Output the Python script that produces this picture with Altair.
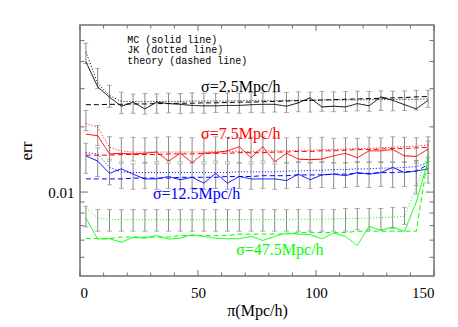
import altair as alt
import pandas as pd

# ---------------- data ----------------
xs = [2.5, 7.5, 12.5, 17.5, 22.5, 27.5, 32.5, 37.5, 42.5, 47.5,
      52.5, 57.5, 62.5, 67.5, 72.5, 77.5, 82.5, 87.5, 92.5, 97.5,
      102.5, 107.5, 112.5, 117.5, 122.5, 127.5, 132.5, 137.5, 142.5, 147.5]

black_mc = [0.0399, 0.0306, 0.0274, 0.0249, 0.0260, 0.0242, 0.0260, 0.0256, 0.0254, 0.0251,
            0.0250, 0.0250, 0.0251, 0.0251, 0.0253, 0.0254, 0.0254, 0.0249, 0.0258, 0.0272,
            0.0247, 0.0249, 0.0247, 0.0256, 0.0250, 0.0275, 0.0265, 0.0253, 0.0242, 0.0265]
black_jk = [0.0444, 0.0317, 0.0279, 0.0262, 0.0262, 0.0261, 0.0262, 0.0262, 0.0262, 0.0263,
            0.0263, 0.0263, 0.0263, 0.0264, 0.0264, 0.0264, 0.0264, 0.0265, 0.0265, 0.0265,
            0.0266, 0.0266, 0.0266, 0.0266, 0.0267, 0.0267, 0.0267, 0.0268, 0.0268, 0.0269]
black_th = [0.0253, 0.0253, 0.0254, 0.0254, 0.0255, 0.0255, 0.0256, 0.0256, 0.0257, 0.0257,
            0.0258, 0.0258, 0.0259, 0.0260, 0.0260, 0.0261, 0.0262, 0.0263, 0.0264, 0.0265,
            0.0266, 0.0267, 0.0268, 0.0269, 0.0270, 0.0271, 0.0272, 0.0273, 0.0275, 0.0276]
black_lo = [0.0392, 0.0300, 0.0246, 0.0230, 0.0231, 0.0229, 0.0231, 0.0232, 0.0230, 0.0232,
            0.0231, 0.0233, 0.0232, 0.0231, 0.0233, 0.0232, 0.0234, 0.0233, 0.0235, 0.0234,
            0.0236, 0.0235, 0.0236, 0.0237, 0.0236, 0.0238, 0.0237, 0.0238, 0.0239, 0.0246]
black_hi = [0.0486, 0.0372, 0.0311, 0.0289, 0.0283, 0.0285, 0.0284, 0.0286, 0.0285, 0.0287,
            0.0286, 0.0285, 0.0287, 0.0286, 0.0288, 0.0287, 0.0289, 0.0288, 0.0290, 0.0289,
            0.0291, 0.0290, 0.0291, 0.0292, 0.0291, 0.0293, 0.0292, 0.0293, 0.0294, 0.0295]

red_mc = [0.0185, 0.0182, 0.0150, 0.0151, 0.0150, 0.0151, 0.0153, 0.0139, 0.0151, 0.0137,
          0.0151, 0.0152, 0.0155, 0.0162, 0.0144, 0.0162, 0.0138, 0.0151, 0.0142, 0.0141,
          0.0142, 0.0147, 0.0151, 0.0144, 0.0155, 0.0155, 0.0157, 0.0147, 0.0146, 0.0158]
red_jk = [0.0207, 0.0199, 0.0161, 0.0155, 0.0153, 0.0153, 0.0153, 0.0153, 0.0153, 0.0153,
          0.0153, 0.0154, 0.0154, 0.0154, 0.0154, 0.0155, 0.0155, 0.0155, 0.0156, 0.0156,
          0.0157, 0.0157, 0.0158, 0.0159, 0.0159, 0.0160, 0.0161, 0.0162, 0.0163, 0.0165]
red_th = [0.0148, 0.0148, 0.0148, 0.0149, 0.0149, 0.0149, 0.0149, 0.0150, 0.0150, 0.0150,
          0.0151, 0.0151, 0.0151, 0.0152, 0.0152, 0.0152, 0.0153, 0.0153, 0.0154, 0.0154,
          0.0155, 0.0155, 0.0156, 0.0157, 0.0157, 0.0158, 0.0159, 0.0159, 0.0160, 0.0161]
red_lo = [0.0192, 0.0164, 0.0139, 0.0138, 0.0139, 0.0137, 0.0138, 0.0139, 0.0138, 0.0137,
          0.0138, 0.0139, 0.0138, 0.0137, 0.0138, 0.0139, 0.0138, 0.0137, 0.0138, 0.0137,
          0.0138, 0.0137, 0.0136, 0.0137, 0.0138, 0.0137, 0.0138, 0.0137, 0.0136, 0.0138]
red_hi = [0.0238, 0.0203, 0.0180, 0.0178, 0.0179, 0.0178, 0.0179, 0.0180, 0.0179, 0.0178,
          0.0179, 0.0180, 0.0179, 0.0178, 0.0179, 0.0180, 0.0179, 0.0178, 0.0179, 0.0178,
          0.0179, 0.0177, 0.0178, 0.0177, 0.0179, 0.0178, 0.0180, 0.0179, 0.0178, 0.0180]

blue_mc = [0.0147, 0.0139, 0.0122, 0.0128, 0.0121, 0.0115, 0.0115, 0.0118, 0.0114, 0.0117,
           0.0110, 0.0122, 0.0110, 0.0118, 0.0115, 0.0115, 0.0115, 0.0113, 0.0121, 0.0114,
           0.0120, 0.0121, 0.0119, 0.0123, 0.0121, 0.0123, 0.0130, 0.0123, 0.0125, 0.0128]
blue_jk = [0.0152, 0.0150, 0.0130, 0.0124, 0.0123, 0.0123, 0.0123, 0.0123, 0.0123, 0.0123,
           0.0123, 0.0123, 0.0123, 0.0124, 0.0124, 0.0124, 0.0124, 0.0125, 0.0125, 0.0126,
           0.0126, 0.0127, 0.0127, 0.0128, 0.0128, 0.0129, 0.0129, 0.0130, 0.0131, 0.0137]
blue_th = [0.0115, 0.0115, 0.0115, 0.0115, 0.0116, 0.0116, 0.0116, 0.0116, 0.0117, 0.0117,
           0.0117, 0.0117, 0.0118, 0.0118, 0.0118, 0.0119, 0.0119, 0.0119, 0.0120, 0.0120,
           0.0120, 0.0121, 0.0121, 0.0122, 0.0122, 0.0123, 0.0123, 0.0124, 0.0125, 0.0134]
blue_lo = [0.0122, 0.0118, 0.0108, 0.0104, 0.0103, 0.0104, 0.0103, 0.0104, 0.0103, 0.0104,
           0.0103, 0.0104, 0.0103, 0.0104, 0.0103, 0.0104, 0.0103, 0.0104, 0.0105, 0.0104,
           0.0105, 0.0104, 0.0105, 0.0106, 0.0105, 0.0106, 0.0105, 0.0106, 0.0107, 0.0110]
blue_hi = [0.0168, 0.0160, 0.0142, 0.0136, 0.0135, 0.0136, 0.0135, 0.0136, 0.0135, 0.0136,
           0.0135, 0.0136, 0.0135, 0.0136, 0.0135, 0.0136, 0.0135, 0.0136, 0.0137, 0.0136,
           0.0137, 0.0136, 0.0137, 0.0138, 0.0137, 0.0138, 0.0137, 0.0138, 0.0139, 0.0145]

green_mc = [0.0076, 0.00607, 0.00609, 0.00587, 0.00618, 0.00613, 0.00631, 0.00607, 0.00613, 0.00636,
            0.00624, 0.00613, 0.00609, 0.00609, 0.00624, 0.00598, 0.00624, 0.00647, 0.00640, 0.00636,
            0.00609, 0.00647, 0.00624, 0.00567, 0.00695, 0.00666, 0.00690, 0.00659, 0.0090, 0.0140]
green_jk = [0.00845, 0.0076, 0.00748, 0.00746, 0.00746, 0.00746, 0.00746, 0.00746, 0.00746, 0.00746,
            0.00746, 0.00746, 0.00746, 0.00747, 0.00747, 0.00747, 0.00748, 0.00748, 0.00749, 0.00750,
            0.00751, 0.00752, 0.00754, 0.00756, 0.00758, 0.00762, 0.00767, 0.00773, 0.0105, 0.0150]
green_th = [0.0061, 0.0061, 0.0061, 0.0062, 0.0062, 0.0062, 0.0062, 0.0062, 0.0063, 0.0063,
            0.0063, 0.0063, 0.0063, 0.0064, 0.0064, 0.0064, 0.0064, 0.0064, 0.0065, 0.0065,
            0.0065, 0.0065, 0.0065, 0.0066, 0.0066, 0.0066, 0.0066, 0.0066, 0.0066, 0.0145]
green_lo = [0.0069, 0.0066, 0.0066, 0.0066, 0.0066, 0.0066, 0.0066, 0.0066, 0.0066, 0.0066,
            0.0066, 0.0066, 0.0066, 0.0066, 0.0066, 0.0066, 0.0066, 0.0066, 0.0066, 0.0066,
            0.0066, 0.0066, 0.0066, 0.0067, 0.0067, 0.0067, 0.0068, 0.0071, 0.0098, 0.0122]
green_hi = [0.0086, 0.0083, 0.0083, 0.0083, 0.0083, 0.0083, 0.0083, 0.0083, 0.0083, 0.0083,
            0.0083, 0.0083, 0.0083, 0.0083, 0.0083, 0.0083, 0.0083, 0.0083, 0.0083, 0.0083,
            0.0083, 0.0083, 0.0084, 0.0084, 0.0084, 0.0084, 0.0085, 0.0085, 0.0140, 0.0172]

series_names = ["s2.5", "s7.5", "s12.5", "s47.5"]
series_colors = ["#000000", "#ff0000", "#0000ff", "#00ff00"]

kinds = ["MC", "JK", "theory"]
kind_dashes = [[1, 0], [1, 2], [5, 3]]

legend_lines = ["MC (solid line)", "JK (dotted line)", "theory (dashed line)"]
legend_x = [20, 20, 20]
legend_y = [0.0504, 0.0453, 0.0402]

sigma_labels = ["σ=2.5Mpc/h", "σ=7.5Mpc/h", "σ=12.5Mpc/h", "σ=47.5Mpc/h"]
sigma_x = [68.1, 68.1, 49.4, 84.7]
sigma_y = [0.0306, 0.0185, 0.0098, 0.0054]

x_major = [0, 50, 100, 150]
x_minor = [10, 20, 30, 40, 60, 70, 80, 90, 110, 120, 130, 140]
y_major = [0.01]
y_minor = [0.005, 0.006, 0.007, 0.008, 0.009, 0.02, 0.03, 0.04, 0.05]

# ---------------- tables ----------------
all_series = {
    "s2.5": (black_mc, black_jk, black_th, black_lo, black_hi),
    "s7.5": (red_mc, red_jk, red_th, red_lo, red_hi),
    "s12.5": (blue_mc, blue_jk, blue_th, blue_lo, blue_hi),
    "s47.5": (green_mc, green_jk, green_th, green_lo, green_hi),
}
line_rows, err_rows = [], []
for name, (mc, jk, th, lo, hi) in all_series.items():
    for kind, vals in zip(kinds, (mc, jk, th)):
        for x, v in zip(xs, vals):
            line_rows.append({"x": x, "v": v, "series": name, "kind": kind})
    for x, a, b in zip(xs, lo, hi):
        err_rows.append({"x": x, "lo": a, "hi": b})
lines_df = pd.DataFrame(line_rows)
err_df = pd.DataFrame(err_rows)

legend_df = pd.DataFrame({"x": legend_x, "y": legend_y, "t": legend_lines})
sigma_df = pd.DataFrame({"x": sigma_x, "y": sigma_y, "t": sigma_labels, "c": series_colors})

W, H = 354, 251
SERIF = "Liberation Serif"
FRAME = "#707070"
ERR = "#8a8a8a"

xscale = alt.Scale(domain=[0, 150], nice=False, zero=False)
yscale = alt.Scale(type="log", domain=[0.0041, 0.059], nice=False)

xaxis = alt.Axis(values=x_major, ticks=False, domain=False, grid=False,
                 labelFont=SERIF, labelFontSize=15, labelPadding=9, labelColor="#000",
                 title="π(Mpc/h)", titleFont=SERIF, titleFontSize=16,
                 titleFontWeight="normal", titlePadding=2, titleColor="#000")
yaxis = alt.Axis(values=y_major, labelExpr="'0.01'", ticks=False, domain=False, grid=False,
                 labelFont=SERIF, labelFontSize=15, labelPadding=6, labelColor="#000",
                 title="err", titleFont=SERIF, titleFontSize=17,
                 titleFontWeight="normal", titlePadding=12, titleColor="#000")


def X(field):
    return alt.X(field, scale=xscale, axis=xaxis)


def Y(field):
    return alt.Y(field, scale=yscale, axis=yaxis)


lines = alt.Chart(lines_df).mark_line(strokeWidth=1, clip=True).encode(
    x=X("x:Q"),
    y=Y("v:Q"),
    color=alt.Color("series:N", scale=alt.Scale(domain=series_names, range=series_colors), legend=None),
    strokeDash=alt.StrokeDash("kind:N", scale=alt.Scale(domain=kinds, range=kind_dashes), legend=None),
    order=alt.Order("x:Q"),
)

ebase = alt.Chart(err_df)
err_rule = ebase.mark_rule(color=ERR, strokeWidth=1).encode(
    x=X("x:Q"), y=Y("lo:Q"), y2="hi:Q",
)
cap_lo = ebase.mark_tick(color=ERR, orient="horizontal", size=5, thickness=1).encode(
    x=X("x:Q"), y=Y("lo:Q"),
)
cap_hi = ebase.mark_tick(color=ERR, orient="horizontal", size=5, thickness=1).encode(
    x=X("x:Q"), y=Y("hi:Q"),
)

legend_text = alt.Chart(legend_df).mark_text(
    font="Liberation Mono", fontSize=10, align="left", baseline="middle", color="#000"
).encode(
    x=X("x:Q"), y=Y("y:Q"), text="t:N",
)
sigma_text = alt.Chart(sigma_df).mark_text(
    font=SERIF, fontSize=16, align="center", baseline="middle"
).encode(
    x=X("x:Q"), y=Y("y:Q"), text="t:N",
    color=alt.Color("c:N", scale=None),
)


def xticks(vals, length):
    d = pd.DataFrame({"v": vals})
    bottom = alt.Chart(d).mark_rule(color=FRAME, strokeWidth=1).encode(
        x=X("v:Q"), y=alt.value(H), y2=alt.value(H - length))
    top = alt.Chart(d).mark_rule(color=FRAME, strokeWidth=1).encode(
        x=X("v:Q"), y=alt.value(0), y2=alt.value(length))
    return [bottom, top]


def yticks(vals, length):
    d = pd.DataFrame({"v": vals})
    left = alt.Chart(d).mark_rule(color=FRAME, strokeWidth=1).encode(
        y=Y("v:Q"), x=alt.value(0), x2=alt.value(length))
    right = alt.Chart(d).mark_rule(color=FRAME, strokeWidth=1).encode(
        y=Y("v:Q"), x=alt.value(W), x2=alt.value(W - length))
    return [left, right]


tick_layers = xticks(x_major, 6) + xticks(x_minor, 3.5) + yticks(y_major, 8) + yticks(y_minor, 4.5)

chart = alt.layer(
    *tick_layers, err_rule, cap_lo, cap_hi, lines, legend_text, sigma_text
).properties(
    width=W, height=H,
    background="white",
    autosize=alt.AutoSizeParams(type="none"),
    padding={"left": 72, "top": 17, "right": 14, "bottom": 50},
).configure_view(
    stroke=FRAME, strokeWidth=1.5
)

chart.save("out.html", embed_options={"renderer": "svg", "actions": False})
